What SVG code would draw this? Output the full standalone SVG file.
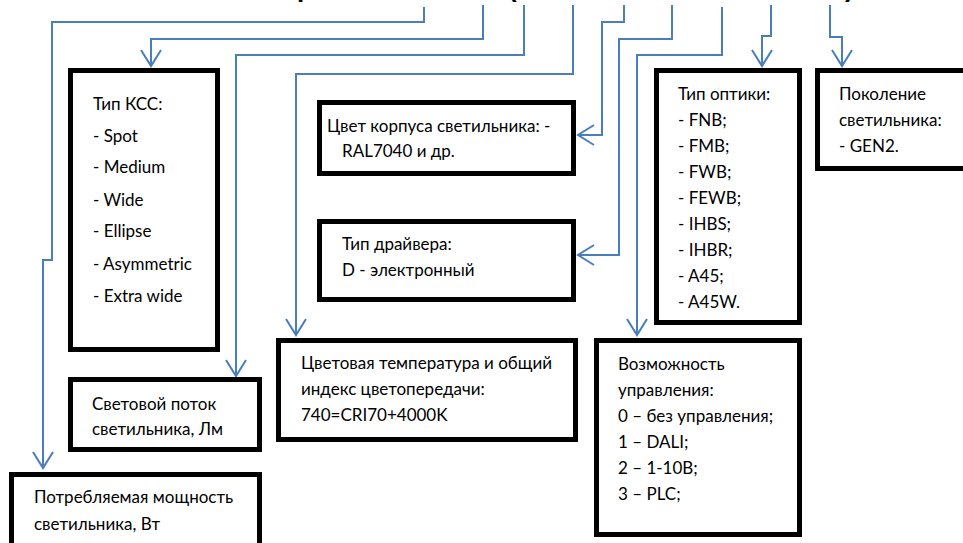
<svg xmlns="http://www.w3.org/2000/svg" width="963" height="543" viewBox="0 0 963 543">
<style>
.box{fill:#fff;stroke:#000;stroke-width:5}
.t{font-family:Lato,"Open Sans","Liberation Sans",sans-serif;font-size:17px;fill:#000}
.ttl{font-family:"Liberation Sans",Arial,sans-serif;font-size:26px;font-weight:bold;fill:#000}
.c{fill:none;stroke:#4A7EBB;stroke-width:2;marker-end:url(#arr)}
</style>
<defs>
<marker id="arr" markerUnits="userSpaceOnUse" viewBox="0 0 20 24" refX="18" refY="12" markerWidth="20" markerHeight="24" orient="auto">
<path d="M2,2 L18,12 L2,22" fill="none" stroke="#4A7EBB" stroke-width="2"/>
</marker>
</defs>
<rect width="963" height="543" fill="#fff"/>
<g id="title">
<text class="ttl" x="297" y="-3">р</text>
<text class="ttl" x="508" y="-3">(</text>
<text class="ttl" x="845" y="-3">)</text>
</g>
<g id="connectors">
<path class="c" d="M424,7 V22 H52 V260 H43 V468"/>
<path class="c" d="M483,5 V39 H151 V66"/>
<path class="c" d="M524,5 V55 H236 V376"/>
<path class="c" d="M573,5 V74 H296 V335"/>
<path class="c" d="M624,5 V22 H602 V135 H578"/>
<path class="c" d="M672,5 V39 H619 V255 H578"/>
<path class="c" d="M722,7 V55 H637 V335"/>
<path class="c" d="M771,5 V36 H762 V66"/>
<path class="c" d="M830,5 V37 H842 V66"/>
</g>
<g id="ksc">
<rect class="box" x="70.5" y="70.5" width="147" height="279"/>
<text class="t" x="93" y="110">Тип КСС:</text>
<text class="t" x="93" y="142">- Spot</text>
<text class="t" x="93" y="173">- Medium</text>
<text class="t" x="93" y="206">- Wide</text>
<text class="t" x="93" y="237">- Ellipse</text>
<text class="t" x="93" y="270">- Asymmetric</text>
<text class="t" x="93" y="302">- Extra wide</text>
</g>
<g id="flux">
<rect class="box" x="70.5" y="379.5" width="189" height="70"/>
<text class="t" x="92" y="410">Световой поток</text>
<text class="t" x="92" y="435">светильника, Лм</text>
</g>
<g id="power">
<rect class="box" x="11.5" y="474.5" width="248" height="90"/>
<text class="t" x="34" y="503">Потребляемая мощность</text>
<text class="t" x="34" y="530">светильника, Вт</text>
</g>
<g id="housing-color">
<rect class="box" x="319.5" y="102.5" width="254" height="71"/>
<text class="t" x="327" y="132">Цвет корпуса светильника: -</text>
<text class="t" x="342" y="157">RAL7040 и др.</text>
</g>
<g id="driver">
<rect class="box" x="319.5" y="221.5" width="254" height="78"/>
<text class="t" x="342" y="250">Тип драйвера:</text>
<text class="t" x="342" y="276">D - электронный</text>
</g>
<g id="cct">
<rect class="box" x="278.5" y="340.5" width="297" height="99"/>
<text class="t" x="301" y="369">Цветовая температура и общий</text>
<text class="t" x="301" y="395">индекс цветопередачи:</text>
<text class="t" x="301" y="421">740=CRI70+4000K</text>
</g>
<g id="optics">
<rect class="box" x="656.5" y="70.5" width="143" height="252"/>
<text class="t" x="678" y="100">Тип оптики:</text>
<text class="t" x="678" y="126">- FNB;</text>
<text class="t" x="678" y="152">- FMB;</text>
<text class="t" x="678" y="178">- FWB;</text>
<text class="t" x="678" y="204">- FEWB;</text>
<text class="t" x="678" y="230">- IHBS;</text>
<text class="t" x="678" y="256">- IHBR;</text>
<text class="t" x="678" y="282">- A45;</text>
<text class="t" x="678" y="308">- A45W.</text>
</g>
<g id="generation">
<rect class="box" x="817.5" y="70.5" width="160" height="98"/>
<text class="t" x="839" y="100">Поколение</text>
<text class="t" x="839" y="126">светильника:</text>
<text class="t" x="839" y="152">- GEN2.</text>
</g>
<g id="control">
<rect class="box" x="596.5" y="340.5" width="203" height="194"/>
<text class="t" x="618" y="370">Возможность</text>
<text class="t" x="618" y="396">управления:</text>
<text class="t" x="618" y="422">0 – без управления;</text>
<text class="t" x="618" y="448">1 – DALI;</text>
<text class="t" x="618" y="474">2 – 1-10В;</text>
<text class="t" x="618" y="500">3 – PLC;</text>
</g>
</svg>
